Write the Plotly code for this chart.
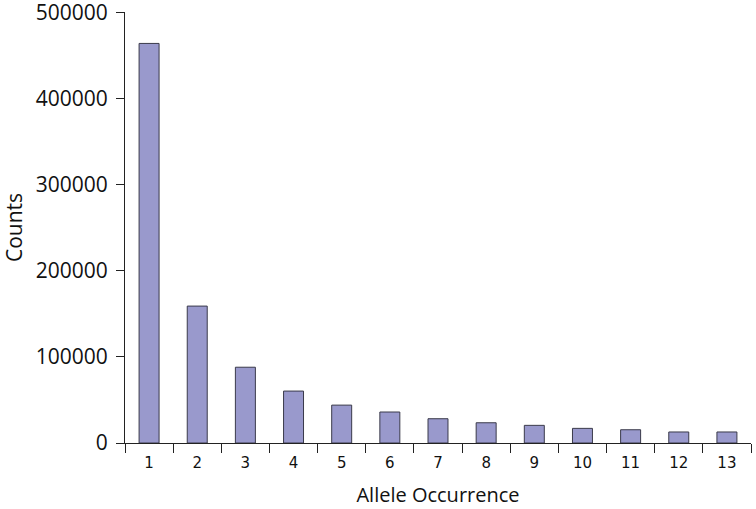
import plotly.graph_objs as go

# Data
occurrence = [str(i) for i in range(1, 14)]
counts = [464000, 159000, 88000, 60300, 44000, 36000, 28200,
          23500, 20500, 17000, 15400, 12800, 12800]
y_ticks = [0, 100000, 200000, 300000, 400000, 500000]

fig = go.Figure()

fig.add_trace(go.Bar(
    x=occurrence,
    y=counts,
    marker=dict(color='#9999cc', line=dict(color='#3a3a4a', width=1)),
    showlegend=False
))

fig.update_layout(
    width=756, height=509,
    margin=dict(l=125, r=5, t=12, b=66, autoexpand=False),
    plot_bgcolor='white', paper_bgcolor='white',
    bargap=0.585,
    font=dict(family='Open Sans', color='#111111')
)

# X-Axis
fig.update_xaxes(
    type='category',
    tickson='boundaries',
    ticks='outside', ticklen=9, tickcolor='#222222', tickwidth=1,
    ticklabelstandoff=6,
    showline=True, linecolor='#222222', linewidth=1,
    showgrid=False, zeroline=False, automargin=False,
    tickfont=dict(family='DejaVu Sans', size=15, color='#111111'),
    title=dict(text='Allele Occurrence', font=dict(family='Open Sans', size=20), standoff=16)
)

# Y-Axis
fig.update_yaxes(
    range=[0, 500500],
    tickvals=y_ticks, tickformat='d',
    ticks='outside', ticklen=8, tickcolor='#222222', tickwidth=1,
    ticklabelstandoff=4, ticklabeloverflow='allow',
    showline=True, linecolor='#222222', linewidth=1,
    showgrid=False, zeroline=False, automargin=False,
    tickfont=dict(family='Open Sans', size=21, color='#111111'),
    title=dict(text='Counts', font=dict(family='Open Sans', size=21), standoff=12)
)

# drop the default page margin so the figure sits at the window's corner
fig.write_html("out.html", config={'displayModeBar': False},
               post_script="document.body.style.margin='0';")
